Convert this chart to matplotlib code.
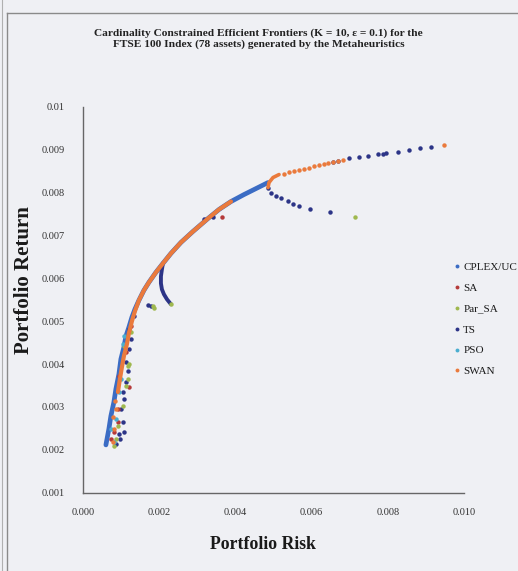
import matplotlib
matplotlib.use("Agg")
import matplotlib.pyplot as plt
from matplotlib.lines import Line2D
import numpy as np

# ---------------- data (risk, return) ----------------
series_names = ["CPLEX/UC", "SA", "Par_SA", "TS", "PSO", "SWAN"]
series_colors = ["#3b6cc4", "#b53a3a", "#9fb84e", "#2c3487", "#4aaed0", "#ea7a3c"]

# CPLEX/UC - dense frontier
cplex_risk = [0.000604, 0.000682, 0.000735, 0.000814, 0.000866, 0.000945, 0.000997, 0.001076,
              0.001129, 0.001207, 0.001286, 0.001365, 0.00147, 0.001601, 0.001732, 0.001916,
              0.0021, 0.00231, 0.002572, 0.002887, 0.003281, 0.00357, 0.003885, 0.004226,
              0.004541, 0.004856]
cplex_ret = [0.002116, 0.002488, 0.002791, 0.003116, 0.003419, 0.003767, 0.004116, 0.004395,
             0.004651, 0.00486, 0.005093, 0.005279, 0.005488, 0.005721, 0.005907, 0.00614,
             0.006349, 0.006581, 0.006837, 0.007093, 0.007395, 0.007605, 0.007791, 0.007953,
             0.008093, 0.008233]

# SWAN - dense part of frontier
swan_curve_risk = [0.000919, 0.000971, 0.001024, 0.001076, 0.001155, 0.001207, 0.001286, 0.001365,
                   0.00147, 0.001601, 0.001732, 0.001916, 0.0021, 0.00231, 0.002572, 0.002887,
                   0.003281, 0.00357, 0.003885]
swan_curve_ret = [0.003349, 0.003651, 0.00393, 0.004186, 0.004465, 0.004721, 0.005, 0.005233,
                  0.005488, 0.005721, 0.005907, 0.00614, 0.006349, 0.006581, 0.006837, 0.007093,
                  0.007395, 0.007605, 0.007791]
swan_hook_risk = [0.004856, 0.004882, 0.004987, 0.005145]
swan_hook_ret = [0.008116, 0.008233, 0.00835, 0.00842]
# SWAN - separate points
swan_risk = [0.000787, 0.000814, 0.000787, 0.000866, 0.00084,
             0.005276, 0.005407, 0.005538, 0.005669, 0.0058, 0.005932, 0.006063, 0.006194,
             0.006325, 0.00643, 0.006562, 0.006693, 0.006824, 0.009475]
swan_ret = [0.002186, 0.002488, 0.002767, 0.002953, 0.00314,
            0.008442, 0.008488, 0.008512, 0.008535, 0.008558, 0.008581, 0.008628, 0.008651,
            0.008674, 0.008698, 0.008721, 0.008744, 0.008767, 0.009116]

# TS - dense branch and points
ts_curve_risk = [0.0021, 0.002073, 0.002047, 0.002047, 0.002073, 0.002126, 0.002205, 0.00231]
ts_curve_ret = [0.006349, 0.006209, 0.006047, 0.005884, 0.005744, 0.005628, 0.005512, 0.005395]
ts_risk = [0.004856, 0.004934, 0.005066, 0.005197, 0.00538, 0.005512, 0.005669, 0.005958, 0.006483,
           0.006562, 0.006693, 0.006982, 0.007244, 0.00748, 0.007743, 0.007874, 0.007953,
           0.008268, 0.008556, 0.008845, 0.009134,
           0.003176, 0.003412, 0.001706, 0.001785,
           0.000945, 0.001076, 0.00105, 0.000997, 0.001076, 0.00105, 0.001129, 0.001181,
           0.001129, 0.001207, 0.00126, 0.001207, 0.001339, 0.000866, 0.000971]
ts_ret = [0.008116, 0.008, 0.00793, 0.007884, 0.007814, 0.007744, 0.007698, 0.007628, 0.007535,
          0.008721, 0.008744, 0.008814, 0.008837, 0.00886, 0.008907, 0.008907, 0.00893,
          0.008953, 0.009, 0.009047, 0.00907,
          0.007372, 0.007419, 0.005372, 0.005349,
          0.002372, 0.002419, 0.002651, 0.002953, 0.003186, 0.003349, 0.003581, 0.003837,
          0.004047, 0.004349, 0.004581, 0.004814, 0.005116, 0.00214, 0.002256]

# Par_SA
parsa_risk = [0.000814, 0.000866, 0.000919, 0.00105, 0.001129, 0.001181, 0.001181, 0.001207,
              0.001076, 0.00126, 0.001837, 0.001864, 0.00231, 0.007139]
parsa_ret = [0.002093, 0.002256, 0.002558, 0.003023, 0.003488, 0.003651, 0.003953, 0.004,
             0.004419, 0.004744, 0.005349, 0.005302, 0.005395, 0.007419]

# SA
sa_risk = [0.000814, 0.000919, 0.000919, 0.001207, 0.000945, 0.001129, 0.00126, 0.003648, 0.000735]
sa_ret = [0.002419, 0.002651, 0.002953, 0.003465, 0.003721, 0.004279, 0.004884, 0.007419, 0.002256]

# PSO
pso_risk = [0.000814, 0.000866, 0.000945, 0.000997, 0.00105, 0.001076, 0.000735]
pso_ret = [0.002186, 0.002721, 0.003349, 0.003651, 0.004465, 0.004651, 0.002488]

x_ticks = [0.000, 0.002, 0.004, 0.006, 0.008, 0.010]
y_ticks = [0.001, 0.002, 0.003, 0.004, 0.005, 0.006, 0.007, 0.008, 0.009, 0.01]
y_tick_labels = ["0.001", "0.002", "0.003", "0.004", "0.005", "0.006", "0.007", "0.008", "0.009", "0.01"]

# ---------------- figure ----------------
bg = "#eff0f4"
plt.rcParams['font.family'] = ['Liberation Serif', 'DejaVu Serif']
fig = plt.figure(figsize=(5.18, 5.71), dpi=100, facecolor=bg)
ax = fig.add_axes([0.160, 0.137, 0.736, 0.676])
ax.set_facecolor(bg)

c = dict(zip(series_names, series_colors))
ms = 3.2
# CPLEX
ax.plot(cplex_risk, cplex_ret, '-', color=c["CPLEX/UC"], lw=3.4, solid_capstyle='round', zorder=2)
# TS
ax.plot(ts_curve_risk, ts_curve_ret, '-', color=c["TS"], lw=2.8, solid_capstyle='round', zorder=2)
ax.plot(ts_risk, ts_ret, 'o', color=c["TS"], ms=ms, mew=0, zorder=3)
# SA / Par_SA / PSO
ax.plot(sa_risk, sa_ret, 'o', color=c["SA"], ms=ms, mew=0, zorder=3)
ax.plot(parsa_risk, parsa_ret, 'o', color=c["Par_SA"], ms=ms, mew=0, zorder=3)
ax.plot(pso_risk, pso_ret, 'o', color=c["PSO"], ms=ms, mew=0, zorder=3)
# SWAN
ax.plot(swan_curve_risk, swan_curve_ret, '-', color=c["SWAN"], lw=3.0, solid_capstyle='round', zorder=4)
ax.plot(swan_hook_risk, swan_hook_ret, '-', color=c["SWAN"], lw=2.6, solid_capstyle='round', zorder=4)
ax.plot(swan_risk, swan_ret, 'o', color=c["SWAN"], ms=ms, mew=0, zorder=4)

ax.set_xlim(0.0, 0.010)
ax.set_ylim(0.001, 0.010)
ax.set_xticks(x_ticks)
ax.set_xticklabels(["%.3f" % v for v in x_ticks])
ax.set_yticks(y_ticks)
ax.set_yticklabels(y_tick_labels)
ax.tick_params(axis='both', length=0, labelsize=7.5, colors="#333333")
ax.tick_params(axis='y', pad=13)
ax.tick_params(axis='x', pad=11)
for s in ["top", "right"]:
    ax.spines[s].set_visible(False)
for s in ["left", "bottom"]:
    ax.spines[s].set_color("#666666")
    ax.spines[s].set_linewidth(1.0)

fig.text(0.499, 0.950, "Cardinality Constrained Efficient Frontiers (K = 10, ε = 0.1) for the\n"
         "FTSE 100 Index (78 assets) generated by the Metaheuristics",
         ha='center', va='top', fontsize=8.2, fontweight='bold', color="#222222", linespacing=1.2)
fig.text(0.508, 0.046, "Portfolio Risk", ha='center', va='center', fontsize=12.8,
         fontweight='bold', color="#1a1a1a")
fig.text(0.046, 0.51, "Portfolio Return", ha='center', va='center', rotation=90,
         fontsize=15, fontweight='bold', color="#1a1a1a")

handles = [Line2D([], [], ls='none', marker='o', ms=2.8, mew=0, color=col) for col in series_colors]
leg = ax.legend(handles, series_names, loc='upper left', bbox_to_anchor=(0.876, 0.541),
                bbox_transform=fig.transFigure, frameon=False, fontsize=8,
                handlelength=0.6, handletextpad=0.25, labelspacing=1.0, borderpad=0,
                borderaxespad=0)
for t in leg.get_texts():
    t.set_color("#1a1a1a")

# page frame lines (scanned box)
fig.add_artist(Line2D([7/518, 7/518], [0, 1 - 13/571], transform=fig.transFigure,
                      color="#8a8a8a", lw=1.0))
fig.add_artist(Line2D([7/518, 1], [1 - 13/571, 1 - 13/571], transform=fig.transFigure,
                      color="#8a8a8a", lw=1.0))
fig.add_artist(Line2D([2/518, 2/518], [0, 1], transform=fig.transFigure,
                      color="#b0b0b0", lw=0.8))

fig.savefig("out.png", dpi=100, facecolor=bg)
